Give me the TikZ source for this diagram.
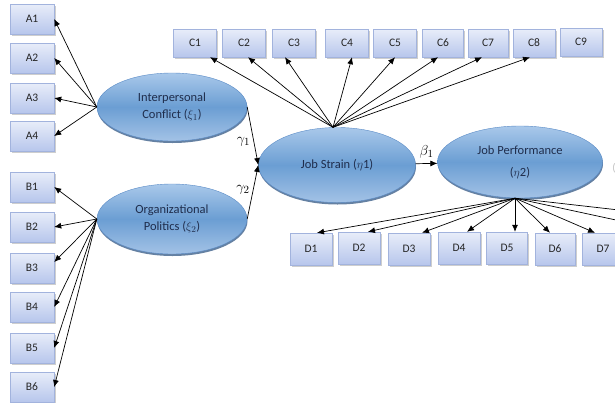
\documentclass[tikz,border=0pt]{standalone}
\usepackage{fontspec}
\setmainfont{Carlito}
\usepackage{amsmath}
\usetikzlibrary{shapes.geometric,shadows,arrows.meta}

\definecolor{boxtop}{HTML}{E8EDF9}
\definecolor{boxbot}{HTML}{B7C6EC}
\definecolor{boxline}{HTML}{A2B3DD}
\definecolor{elltop}{HTML}{A9C8EA}
\definecolor{ellmid}{HTML}{6B9ED3}
\definecolor{ellbot}{HTML}{A3C2E6}
\definecolor{ellline}{HTML}{5A8BC6}
\definecolor{etxt}{HTML}{1F2D4C}

\begin{document}
\begin{tikzpicture}[x=1pt, y=-1pt,
    ind/.style={rectangle, draw=boxline, top color=boxtop, bottom color=boxbot,
      minimum width=44, minimum height=30, inner sep=0pt,
      font=\fontsize{11.5}{12}\selectfont, text=black!85,
      drop shadow={shadow xshift=1.5pt, shadow yshift=-1.5pt, fill=gray!70, opacity=0.55}},
    lat/.style={ellipse, draw=ellline, top color=elltop, bottom color=ellbot, middle color=ellmid,
      inner sep=0pt, align=center, font=\fontsize{12.5}{17}\selectfont, text=etxt,
      drop shadow={shadow xshift=0.5pt, shadow yshift=-2pt, fill=ellline!70!black, opacity=0.8}},
    pil/.style={-{Latex[length=7pt, width=6pt]}, line width=0.7pt},
    coef/.style={font=\fontsize{15}{15}\selectfont}]

  \path[use as bounding box] (0,0) rectangle (615,402);
  \clip (0,0) rectangle (615,402);

  % Variabili latenti
  \node[lat, minimum width=150, minimum height=68] (IC) at (172,107) {Interpersonal\\Conflict ($\xi_1$)};
  \node[lat, minimum width=150, minimum height=70] (OP) at (172,219) {Organizational\\Politics ($\xi_2$)};
  \node[lat, minimum width=157, minimum height=75] (JS) at (337,165) {Job Strain ($\eta$1)};
  \node[lat, minimum width=165, minimum height=72, font=\fontsize{12.5}{22}\selectfont] (JP) at (520,162) {Job Performance\\($\eta$2)};

  % Indicatori A
  \node[ind] (A1) at (32,19) {A1};
  \node[ind] (A2) at (32,58) {A2};
  \node[ind] (A3) at (32,98) {A3};
  \node[ind] (A4) at (32,136) {A4};

  % Indicatori B
  \node[ind] (B1) at (32,187) {B1};
  \node[ind] (B2) at (32,227) {B2};
  \node[ind] (B3) at (32,268) {B3};
  \node[ind] (B4) at (32,307) {B4};
  \node[ind] (B5) at (32,348) {B5};
  \node[ind] (B6) at (32,387) {B6};

  % Indicatori C
  \node[ind, minimum width=43, minimum height=28] (C1) at (195,43) {C1};
  \node[ind, minimum width=43, minimum height=28] (C2) at (244,43) {C2};
  \node[ind, minimum width=43, minimum height=28] (C3) at (294,43) {C3};
  \node[ind, minimum width=43, minimum height=28] (C4) at (347,43) {C4};
  \node[ind, minimum width=43, minimum height=28] (C5) at (395,43) {C5};
  \node[ind, minimum width=41, minimum height=28] (C6) at (443,43) {C6};
  \node[ind, minimum width=40, minimum height=28] (C7) at (488,43) {C7};
  \node[ind, minimum width=42, minimum height=28] (C8) at (534,43) {C8};
  \node[ind, minimum width=42, minimum height=28] (C9) at (581,42) {C9};

  % Indicatori D
  \node[ind, minimum width=42, minimum height=32] (D1) at (311,249) {D1};
  \node[ind, minimum width=42, minimum height=32] (D2) at (359,248) {D2};
  \node[ind, minimum width=42, minimum height=32] (D3) at (409,249) {D3};
  \node[ind, minimum width=42, minimum height=32] (D4) at (459,248) {D4};
  \node[ind, minimum width=41, minimum height=32] (D5) at (507,248) {D5};
  \node[ind, minimum width=40, minimum height=32] (D6) at (555,249) {D6};
  \node[ind, minimum width=42, minimum height=32] (D7) at (603,249) {D7};
  \coordinate (D8) at (690,236); % fuori dal bordo
  \coordinate (D9) at (760,226); % fuori dal bordo
  \node[text=gray!50, font=\fontsize{11}{12}\selectfont] (err) at (614,168) {(};

  % Archi A e B
  \draw[pil] (IC.west) -- (A1.east);
  \draw[pil] (IC.west) -- (A2.east);
  \draw[pil] (IC.west) -- (A3.east);
  \draw[pil] (IC.west) -- (A4.east);
  \draw[pil] (OP.west) -- (B1.east);
  \draw[pil] (OP.west) -- (B2.east);
  \draw[pil] (OP.west) -- ([yshift=6]B3.east);
  \draw[pil] (OP.west) -- (B4.east);
  \draw[pil] (OP.west) -- (B5.east);
  \draw[pil] (OP.west) -- (B6.east);

  % Percorsi strutturali
  \draw[pil] (IC.east) -- node[pos=0.6, left, coef] {$\gamma_1$} (JS.west);
  \draw[pil] (OP.east) -- node[pos=0.55, left, coef] {$\gamma_2$} (JS.west);
  \draw[pil] (JS) -- node[midway, above=2pt, coef] {$\beta_1$} (JP);

  % Archi C
  \draw[pil] ([xshift=-4]JS.north) -- ([xshift=15]C1.south);
  \draw[pil] ([xshift=-4]JS.north) -- ([xshift=4]C2.south);
  \draw[pil] ([xshift=-4]JS.north) -- ([xshift=-9]C3.south);
  \draw[pil] ([xshift=-4]JS.north) -- ([xshift=5]C4.south);
  \draw[pil] ([xshift=-4]JS.north) -- (C5.south);
  \draw[pil] ([xshift=-4]JS.north) -- ([xshift=-5]C6.south);
  \draw[pil] ([xshift=-4]JS.north) -- ([xshift=-6]C7.south);
  \draw[pil] ([xshift=-4]JS.north) -- ([xshift=-4]C8.south);

  % Archi D
  \draw[pil] ([xshift=-5]JP.south) -- ([xshift=6]D1.north);
  \draw[pil] ([xshift=-5]JP.south) -- ([xshift=9]D2.north);
  \draw[pil] ([xshift=-5]JP.south) -- ([xshift=13]D3.north);
  \draw[pil] ([xshift=-5]JP.south) -- ([xshift=8]D4.north);
  \draw[pil] ([xshift=-5]JP.south) -- ([xshift=8]D5.north);
  \draw[pil] ([xshift=-5]JP.south) -- ([xshift=-5]D6.north);
  \draw[pil] ([xshift=-5]JP.south) -- ([xshift=-8]D7.north);
  \draw[pil] ([xshift=-5]JP.south) -- (D8);
  \draw[pil] ([xshift=-5]JP.south) -- (D9);
\end{tikzpicture}
\end{document}
